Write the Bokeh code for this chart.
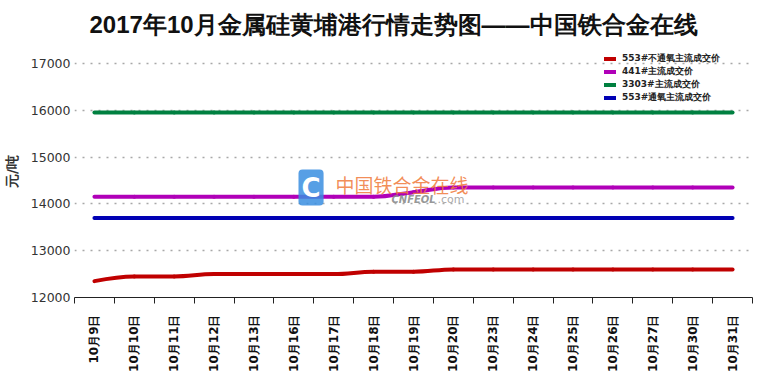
import math
from bokeh.plotting import figure
from bokeh.models import Range1d, FixedTicker, Legend, LegendItem, Label
from bokeh.embed import file_html
from bokeh.resources import INLINE

# ---- data ----
dates = ["10月9日", "10月10日", "10月11日", "10月12日", "10月13日", "10月16日",
         "10月17日", "10月18日", "10月19日", "10月20日", "10月23日", "10月24日",
         "10月25日", "10月26日", "10月27日", "10月30日", "10月31日"]
s553_no_oxy = [12350, 12450, 12450, 12500, 12500, 12500, 12500, 12550, 12550,
               12600, 12600, 12600, 12600, 12600, 12600, 12600, 12600]
s441 = [14150, 14150, 14150, 14150, 14150, 14150, 14150, 14150, 14250,
        14350, 14350, 14350, 14350, 14350, 14350, 14350, 14350]
s3303 = [15950] * 17
s553_oxy = [13700] * 17
y_ticks = [12000, 13000, 14000, 15000, 16000, 17000]
series_names = ["553#不通氧主流成交价", "441#主流成交价", "3303#主流成交价", "553#通氧主流成交价"]
title_text = "2017年10月金属硅黄埔港行情走势图——中国铁合金在线"
y_title = "元/吨"

colors = ["#C00000", "#B000B8", "#008040", "#0000B4"]


def spline_segments(xs, ys, smoothing=1.5):
    n = len(xs)
    denom = smoothing + 1
    left, right = [None] * n, [None] * n
    for i in range(n):
        x, y = xs[i], ys[i]
        if 0 < i < n - 1:
            lx, ly = xs[i - 1], ys[i - 1]
            nx, ny = xs[i + 1], ys[i + 1]
            lcx = (smoothing * x + lx) / denom
            lcy = (smoothing * y + ly) / denom
            rcx = (smoothing * x + nx) / denom
            rcy = (smoothing * y + ny) / denom
            if rcx != lcx:
                corr = ((rcy - lcy) * (rcx - x)) / (rcx - lcx) + y - rcy
                lcy += corr
                rcy += corr
            if lcy > ly and lcy > y:
                lcy = max(ly, y); rcy = 2 * y - lcy
            elif lcy < ly and lcy < y:
                lcy = min(ly, y); rcy = 2 * y - lcy
            if rcy > ny and rcy > y:
                rcy = max(ny, y); lcy = 2 * y - rcy
            elif rcy < ny and rcy < y:
                rcy = min(ny, y); lcy = 2 * y - rcy
            left[i], right[i] = (lcx, lcy), (rcx, rcy)
        else:
            left[i], right[i] = (x, y), (x, y)
    seg = dict(x0=[], y0=[], x1=[], y1=[], cx0=[], cy0=[], cx1=[], cy1=[])
    for i in range(1, n):
        seg["x0"].append(xs[i - 1]); seg["y0"].append(ys[i - 1])
        seg["x1"].append(xs[i]); seg["y1"].append(ys[i])
        seg["cx0"].append(right[i - 1][0]); seg["cy0"].append(right[i - 1][1])
        seg["cx1"].append(left[i][0]); seg["cy1"].append(left[i][1])
    return seg


n = len(dates)
xpos = [i + 0.5 for i in range(n)]

p = figure(width=760, height=377, x_range=Range1d(0, n), y_range=Range1d(12000, 17383),
           output_backend="svg", toolbar_location=None,
           min_border_left=66, min_border_right=8, min_border_top=44, min_border_bottom=80)
p.outline_line_color = None
p.background_fill_color = "white"
p.border_fill_color = "white"

p.title.text = title_text
p.title.align = "left"
p.title.offset = 15
p.title.standoff = 16
p.title.text_font = "Liberation Sans"
p.title.text_font_size = "24px"
p.title.text_font_style = "bold"
p.title.text_color = "#111111"

# x axis
xa = p.xaxis[0]
xa.ticker = FixedTicker(ticks=xpos, minor_ticks=list(range(n + 1)))
overrides = {}
for x, d in zip(xpos, dates):
    overrides[x] = d
    overrides[str(x)] = d
xa.major_label_overrides = overrides
xa.major_label_orientation = math.pi / 2
xa.major_tick_line_color = None
xa.major_tick_out = 0
xa.major_tick_in = 0
xa.minor_tick_out = 6
xa.minor_tick_in = 0
xa.minor_tick_line_color = "#222222"
xa.axis_line_color = "#222222"
xa.major_label_standoff = 11
xa.major_label_text_font = "DejaVu Sans"
xa.major_label_text_font_size = "12px"
xa.major_label_text_font_style = "bold"
xa.major_label_text_color = "#111111"

# y axis
ya = p.yaxis[0]
ya.ticker = FixedTicker(ticks=y_ticks)
ya.axis_line_color = None
ya.major_tick_line_color = None
ya.minor_tick_line_color = None
ya.major_tick_out = 0
ya.major_label_standoff = 4
ya.major_label_text_font = "DejaVu Sans"
ya.major_label_text_font_size = "12.5px"
ya.major_label_text_color = "#333333"
ya.axis_label = y_title
ya.axis_label_standoff = 8
ya.axis_label_text_font = "DejaVu Sans"
ya.axis_label_text_font_size = "14px"
ya.axis_label_text_font_style = "bold"
ya.axis_label_text_color = "#333333"

p.xgrid.grid_line_color = None
p.ygrid.grid_line_color = "#a8a8a8"
p.ygrid.grid_line_dash = "2 6"
p.ygrid.grid_line_width = 1.5

renderers = []
for vals, col in zip([s553_no_oxy, s441, s3303, s553_oxy], colors):
    seg = spline_segments(xpos, vals)
    r = p.bezier(x0=seg["x0"], y0=seg["y0"], x1=seg["x1"], y1=seg["y1"],
                 cx0=seg["cx0"], cy0=seg["cy0"], cx1=seg["cx1"], cy1=seg["cy1"],
                 line_color=col, line_width=4, line_cap="round")
    renderers.append(r)

legend = Legend(items=[LegendItem(label=nm, renderers=[r]) for nm, r in zip(series_names, renderers)],
                location=(530, 193))
legend.background_fill_alpha = 0
legend.border_line_color = None
legend.padding = 0
legend.spacing = 0
legend.margin = 0
legend.glyph_width = 12
legend.glyph_height = 13
legend.label_height = 13
legend.label_standoff = 6
legend.label_text_font = "DejaVu Sans"
legend.label_text_font_size = "9px"
legend.label_text_font_style = "bold"
legend.label_text_color = "#222222"
p.add_layout(legend, "center")

# watermark
p.add_layout(Label(x=224, y=92, x_units="screen", y_units="screen", text="C",
                   text_color="white", text_font="DejaVu Sans", text_font_style="bold",
                   text_font_size="26px", text_baseline="bottom",
                   background_fill_color="#3a8ee0", background_fill_alpha=0.85,
                   padding=3, border_radius=4))
p.add_layout(Label(x=261, y=113, x_units="screen", y_units="screen", text="中国铁合金在线",
                   text_color="#f07a3a", text_alpha=0.85, text_font="Noto Sans CJK SC",
                   text_font_size="19px", text_baseline="middle"))
p.add_layout(Label(x=317, y=98, x_units="screen", y_units="screen", text="CNFEOL",
                   text_color="#8a8a8a", text_alpha=0.9, text_font="DejaVu Sans",
                   text_font_style="bold italic", text_font_size="10px", text_baseline="middle"))
p.add_layout(Label(x=363, y=98, x_units="screen", y_units="screen", text=".com",
                   text_color="#a0a0a0", text_alpha=0.9, text_font="DejaVu Sans",
                   text_font_size="11px", text_baseline="middle"))

open("out.html", "w").write(file_html(p, INLINE))
